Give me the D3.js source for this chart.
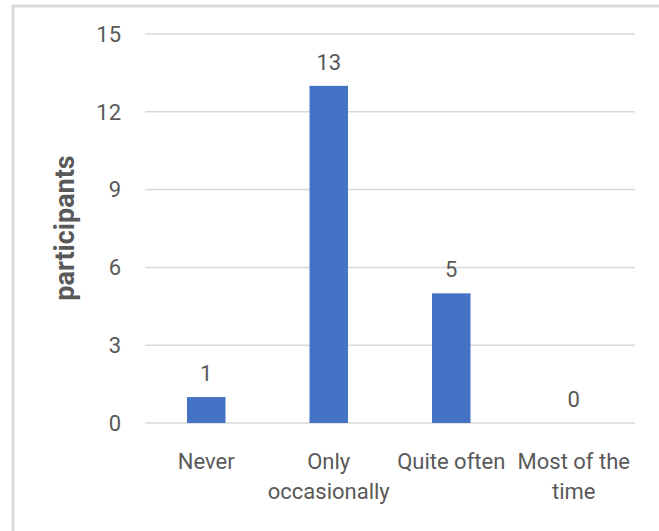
<!DOCTYPE html>
<html>
<head>
<meta charset="utf-8">
<script src="https://cdn.jsdelivr.net/npm/d3@7"></script>
<style>
  body { margin: 0; background: #fff; }
  text { font-family: Roboto, "Liberation Sans", sans-serif; fill: #595959; }
</style>
</head>
<body>
<svg id="chart" width="659" height="531"></svg>
<script>
// chart data
var categories = [['Never'], ['Only', 'occasionally'], ['Quite often'], ['Most of the', 'time']];
var values = [1, 13, 5, 0];
var yTicks = [0, 3, 6, 9, 12, 15];
var yTitle = 'participants';

var svg = d3.select('#chart');

// outer chart frame (only top and left edges show in the crop)
svg.append('rect')
    .attr('x', 13).attr('y', 6)
    .attr('width', 700).attr('height', 600)
    .style('fill', 'none')
    .style('stroke', '#d9d9d9')
    .style('stroke-width', 3);

var padding = {t: 34, r: 24, b: 108, l: 145};
var chartWidth = 659 - padding.l - padding.r;
var chartHeight = 531 - padding.t - padding.b;

var chartG = svg.append('g')
    .attr('transform', 'translate(' + [padding.l, padding.t] + ')');

var xScale = d3.scaleBand()
    .domain(d3.range(categories.length))
    .range([0, chartWidth])
    .paddingInner(0.686)
    .paddingOuter(0.343);

var yScale = d3.scaleLinear()
    .domain([0, 15])
    .range([chartHeight, 0]);

// gridlines
chartG.selectAll('.grid')
    .data(yTicks)
    .enter().append('line')
    .attr('class', 'grid')
    .attr('x1', 0).attr('x2', chartWidth)
    .attr('y1', function(d) { return yScale(d); })
    .attr('y2', function(d) { return yScale(d); })
    .style('stroke', '#d9d9d9')
    .style('stroke-width', 1.5);

// y tick labels
chartG.selectAll('.ytick')
    .data(yTicks)
    .enter().append('text')
    .attr('class', 'ytick')
    .attr('x', -24)
    .attr('y', function(d) { return yScale(d); })
    .attr('dy', '0.35em')
    .attr('text-anchor', 'end')
    .style('font-size', '22px')
    .text(function(d) { return d; });

// bars
chartG.selectAll('.bar')
    .data(values)
    .enter().append('rect')
    .attr('class', 'bar')
    .attr('x', function(d, i) { return xScale(i); })
    .attr('y', function(d) { return yScale(d); })
    .attr('width', xScale.bandwidth())
    .attr('height', function(d) { return chartHeight - yScale(d); })
    .style('fill', '#4472c4');

// value labels
chartG.selectAll('.value')
    .data(values)
    .enter().append('text')
    .attr('class', 'value')
    .attr('x', function(d, i) { return xScale(i) + xScale.bandwidth() / 2; })
    .attr('y', function(d) { return yScale(d) - 16; })
    .attr('text-anchor', 'middle')
    .style('font-size', '22px')
    .text(function(d) { return d; });

// category labels
var catLabels = chartG.selectAll('.cat')
    .data(categories)
    .enter().append('text')
    .attr('class', 'cat')
    .attr('transform', function(d, i) {
        return 'translate(' + [xScale(i) + xScale.bandwidth() / 2, chartHeight + 46] + ')';
    })
    .attr('text-anchor', 'middle')
    .style('font-size', '22px');

catLabels.selectAll('tspan')
    .data(function(d) { return d; })
    .enter().append('tspan')
    .attr('x', 0)
    .attr('dy', function(d, i) { return i === 0 ? 0 : 30; })
    .text(function(d) { return d; });

// y axis title
svg.append('text')
    .attr('transform', 'translate(74, 228) rotate(-90)')
    .attr('text-anchor', 'middle')
    .style('font-size', '27px')
    .style('font-weight', 'bold')
    .text(yTitle);
</script>
</body>
</html>
